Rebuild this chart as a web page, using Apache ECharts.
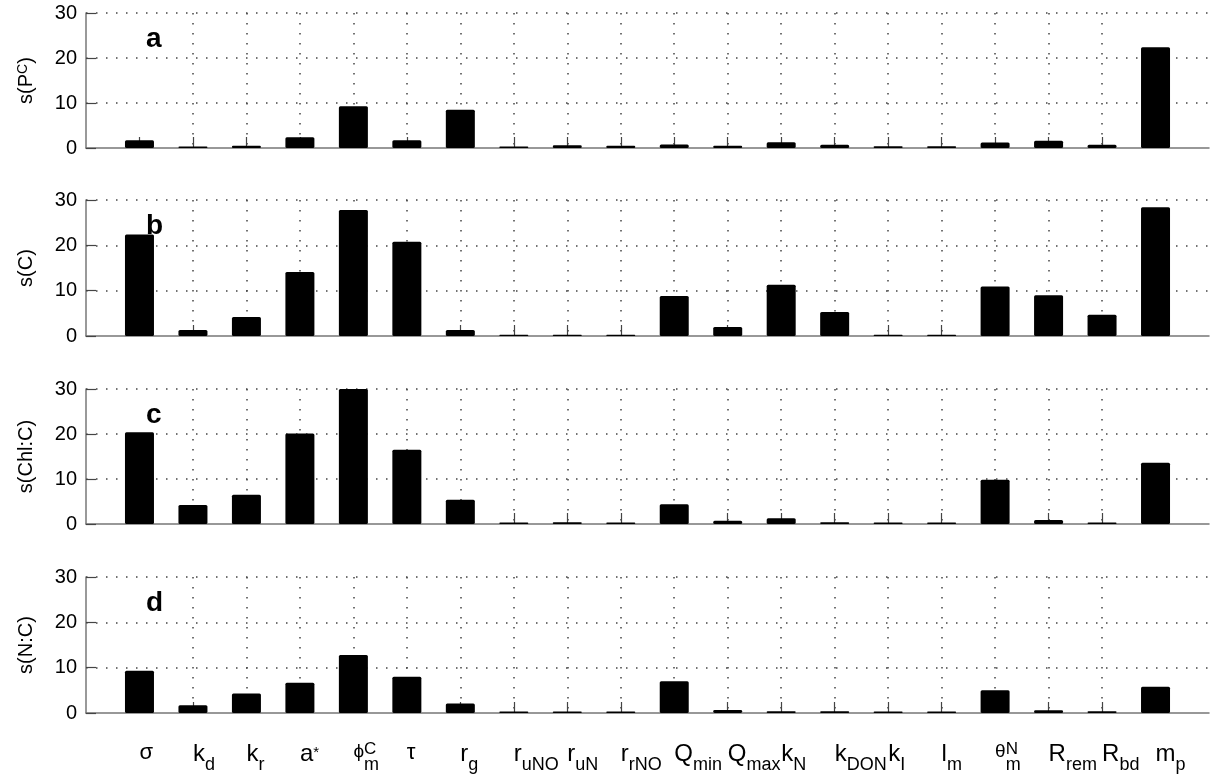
<!DOCTYPE html>
<html>
<head>
<meta charset="utf-8">
<script src="https://cdn.jsdelivr.net/npm/echarts@6/dist/echarts.min.js"></script>
<style>
  html, body { margin: 0; padding: 0; background: #fff; }
  #chart { width: 1213px; height: 778px; }
</style>
</head>
<body>
<div id="chart"></div>
<script>
// Parameter symbols: base letter, subscript, superscript
const labelMain = ['σ', 'k', 'k', 'a', 'ϕ', 'τ', 'r', 'r', 'r', 'r', 'Q', 'Q', 'k', 'k', 'k', 'l', 'θ', 'R', 'R', 'm'];
const labelSub  = ['', 'd', 'r', '', 'm', '', 'g', 'uNO', 'uN', 'rNO', 'min', 'max', 'N', 'DON', 'I', 'm', 'm', 'rem', 'bd', 'p'];
const labelSup  = ['', '', '', '*', 'C', '', '', '', '', '', '', '', '', '', '', '', 'N', '', '', ''];

// Sensitivities of each output to each parameter
const sPC   = [1.7, 0.35, 0.5, 2.4, 9.3, 1.7, 8.5, 0.35, 0.6, 0.5, 0.8, 0.5, 1.3, 0.7, 0.4, 0.4, 1.25, 1.6, 0.7, 22.4];
const sC    = [22.4, 1.3, 4.2, 14.1, 27.8, 20.8, 1.3, 0.3, 0.3, 0.3, 8.8, 2.0, 11.3, 5.3, 0.3, 0.3, 10.9, 9.0, 4.7, 28.4];
const sChlC = [20.4, 4.2, 6.5, 20.1, 30, 16.5, 5.4, 0.35, 0.4, 0.35, 4.4, 0.7, 1.3, 0.4, 0.35, 0.35, 9.85, 0.9, 0.35, 13.6];
const sNC   = [9.3, 1.7, 4.3, 6.7, 12.8, 8.0, 2.1, 0.35, 0.35, 0.35, 7.0, 0.65, 0.4, 0.4, 0.35, 0.35, 5.0, 0.6, 0.4, 5.8];

const panelValues  = [sPC, sC, sChlC, sNC];
const panelLetters = ['a', 'b', 'c', 'd'];
const panelNames   = ['{n|s(P}{u|C}{n|)}', '{n|s(C)}', '{n|s(Chl:C)}', '{n|s(N:C)}'];
const yTicks = [0, 10, 20, 30];

const FONT = 'Liberation Sans, Arial, Helvetica, sans-serif';
const gridTops = [13, 200, 389, 577];
const gridHeights = [135, 136, 135, 136];
const xPositions = labelMain.map((_, i) => i + 1);

const dotted = { color: '#444', width: 1.5, type: [1.5, 8.5] };

function xLabel(i) {
  const main = labelMain[i], sub = labelSub[i], sup = labelSup[i];
  const smallGreek = main === 'ϕ' || main === 'θ';
  const greek = main === 'σ' || main === 'τ';
  const mainStyle = smallGreek ? 'gs' : (greek ? 'g' : 'm');
  const line1 = (smallGreek && sup) ? `{gh|${main}}{c|${sup}}` : '{e| }';
  let line2 = `{${mainStyle}|${main}}`;
  if (sup && !smallGreek) line2 += `{st|${sup}}`;
  if (sub) line2 += `{s|${sub}}`;
  return line1 + '\n' + line2;
}

const labelRich = {
  e:  { fontSize: 10, lineHeight: 1, verticalAlign: 'top', fontFamily: FONT },
  gh: { fontSize: 19, lineHeight: 1, verticalAlign: 'top', color: 'transparent', fontFamily: FONT },
  c:  { fontSize: 17, lineHeight: 1, verticalAlign: 'top', color: '#000', fontFamily: FONT },
  m:  { fontSize: 24, lineHeight: 20, verticalAlign: 'top', color: '#000', fontFamily: FONT },
  g:  { fontSize: 22, lineHeight: 20, verticalAlign: 'top', color: '#000', fontFamily: FONT },
  gs: { fontSize: 19, lineHeight: 6, verticalAlign: 'top', color: '#000', fontFamily: FONT },
  st: { fontSize: 15, lineHeight: 20, padding: [3, 0, 0, 0], verticalAlign: 'top', color: '#000', fontFamily: FONT },
  s:  { fontSize: 18, lineHeight: 14, padding: [14, 0, 0, 0], verticalAlign: 'top', color: '#000', fontFamily: FONT }
};

const grids = [], xAxes = [], yAxes = [], series = [], titles = [];
for (let i = 0; i < 4; i++) {
  grids.push({ left: 86, width: 1123, top: gridTops[i], height: gridHeights[i] });
  titles.push({
    text: panelLetters[i], left: 146, top: gridTops[i] + 12, padding: 0,
    textStyle: { fontSize: 28, fontWeight: 'bold', color: '#000', fontFamily: FONT }
  });
  xAxes.push({
    gridIndex: i, type: 'value', min: 0, max: 21, interval: 1,
    axisLine: { show: true, onZero: false, lineStyle: { color: '#777', width: 1.5 } },
    axisTick: { show: true, inside: true, length: 11, customValues: xPositions, lineStyle: { color: '#444', width: 1.2 } },
    axisLabel: {
      show: i === 3, customValues: xPositions, align: 'left', verticalAlign: 'top', margin: 28,
      formatter: v => xLabel(Math.round(v) - 1), rich: labelRich
    },
    splitLine: { show: true, showMinLine: false, showMaxLine: false, lineStyle: dotted }
  });
  yAxes.push({
    gridIndex: i, type: 'value', min: yTicks[0], max: yTicks[yTicks.length - 1], interval: 10,
    name: panelNames[i], nameLocation: 'middle', nameGap: 50, nameRotate: 90,
    nameTextStyle: {
      color: '#000', fontFamily: FONT,
      rich: {
        n: { fontSize: 20, lineHeight: 20, verticalAlign: 'top', color: '#000', fontFamily: FONT },
        u: { fontSize: 14, lineHeight: 6, verticalAlign: 'top', color: '#000', fontFamily: FONT }
      }
    },
    axisLine: { show: true, lineStyle: { color: '#777', width: 1.5 } },
    axisTick: { show: true, inside: true, length: 10, lineStyle: { color: '#444', width: 1.2 } },
    axisLabel: { fontSize: 20, color: '#000', margin: 9, fontFamily: FONT },
    splitLine: { show: true, showMinLine: false, lineStyle: dotted }
  });
  series.push({
    type: 'bar', xAxisIndex: i, yAxisIndex: i, barWidth: 29,
    data: panelValues[i].map((v, j) => [xPositions[j], v]),
    itemStyle: { color: '#000', borderRadius: 1.5 },
    silent: true
  });
}

const chart = echarts.init(document.getElementById('chart'), null, { renderer: 'canvas' });
chart.setOption({
  animation: false,
  backgroundColor: '#fff',
  textStyle: { fontFamily: FONT },
  title: titles,
  grid: grids,
  xAxis: xAxes,
  yAxis: yAxes,
  series: series
});
</script>
</body>
</html>
